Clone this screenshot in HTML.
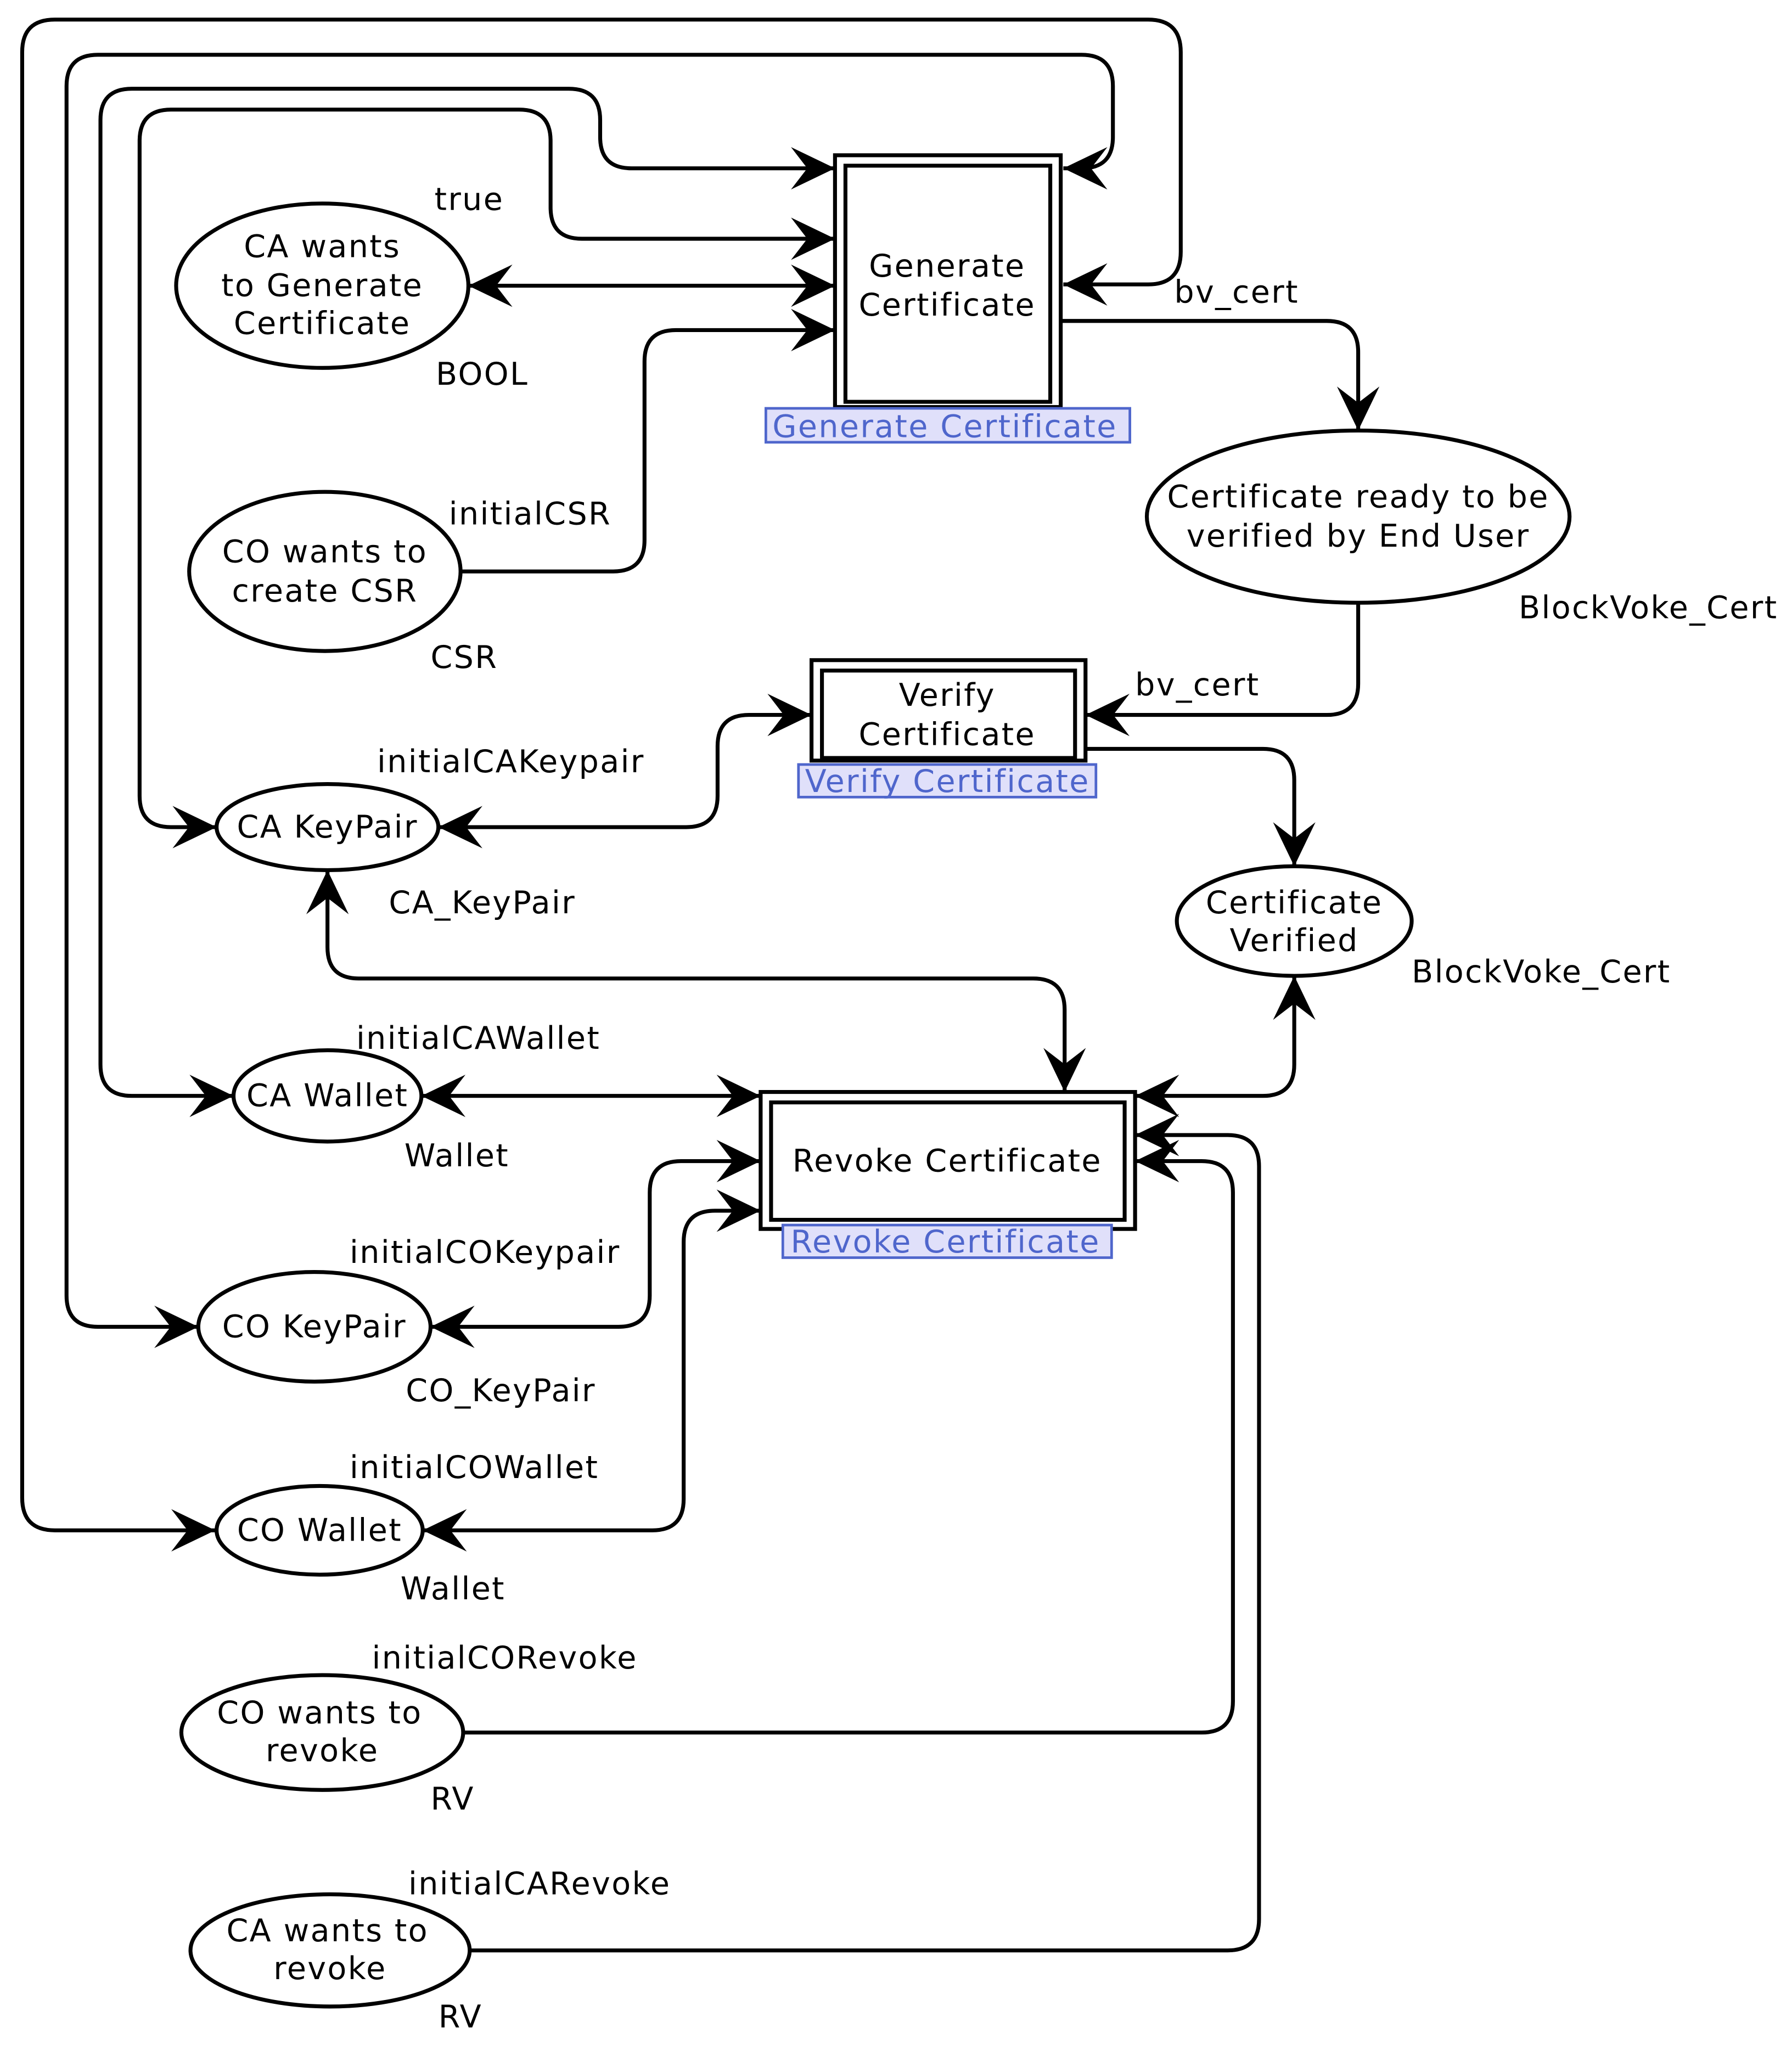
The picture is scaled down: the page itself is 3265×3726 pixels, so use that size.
<!DOCTYPE html>
<html><head><meta charset="utf-8"><style>
html,body{margin:0;padding:0;background:#fff;}
svg{display:block;}
text{font-family:"DejaVu Sans","Liberation Sans",sans-serif;font-size:24px;letter-spacing:1px;fill:#000;}
.c{text-anchor:middle;}
.lb{fill:#4f66cc;}
</style></head><body>
<svg width="3265" height="3726" viewBox="0 0 1373.5 1567.5" preserveAspectRatio="none" xmlns="http://www.w3.org/2000/svg">
<defs>
<marker id="a" markerUnits="userSpaceOnUse" markerWidth="40" markerHeight="40" viewBox="-30 -15 32 30" refX="0" refY="0" orient="auto-start-reverse">
<path d="M0,0 L-27,-13 L-17,0 L-27,13 Z" fill="#000"/>
</marker>
</defs>
<g fill="none" stroke="#000" stroke-width="3">
<path d="M815,218 H880 Q905,218 905,193 V40 Q905,15 880,15 H42 Q17,15 17,40 V1148 Q17,1173 42,1173 H165" marker-start="url(#a)" marker-end="url(#a)"/>
<path d="M815,129 H829 Q853,129 853,105 V66 Q853,42 829,42 H75 Q51,42 51,66 V993 Q51,1017 75,1017 H152" marker-start="url(#a)" marker-end="url(#a)"/>
<path d="M179,840 H101 Q77,840 77,816 V92 Q77,68 101,68 H436 Q460,68 460,92 V105 Q460,129 484,129 H640" marker-start="url(#a)" marker-end="url(#a)"/>
<path d="M166,634 H131 Q107,634 107,610 V108 Q107,84 131,84 H398 Q422,84 422,108 V159 Q422,183 446,183 H640" marker-start="url(#a)" marker-end="url(#a)"/>
<path d="M359,219 H640" marker-start="url(#a)" marker-end="url(#a)"/>
<path d="M353,438 H470 Q494,438 494,414 V277 Q494,253 518,253 H640" marker-end="url(#a)"/>
<path d="M813,246 H1017 Q1041,246 1041,270 V330" marker-end="url(#a)"/>
<path d="M1041,462 V524 Q1041,548 1017,548 H832" marker-end="url(#a)"/>
<path d="M622,548 H574 Q550,548 550,572 V610 Q550,634 526,634 H336" marker-start="url(#a)" marker-end="url(#a)"/>
<path d="M832,574 H968 Q992,574 992,598 V664" marker-end="url(#a)"/>
<path d="M251,667 V726 Q251,750 275,750 H792 Q816,750 816,774 V837" marker-start="url(#a)" marker-end="url(#a)"/>
<path d="M992,748 V816 Q992,840 968,840 H870" marker-start="url(#a)" marker-end="url(#a)"/>
<path d="M323,840 H583" marker-start="url(#a)" marker-end="url(#a)"/>
<path d="M330,1017 H474 Q498,1017 498,993 V914 Q498,890 522,890 H583" marker-start="url(#a)" marker-end="url(#a)"/>
<path d="M324,1173 H500 Q524,1173 524,1149 V952 Q524,928 548,928 H583" marker-start="url(#a)" marker-end="url(#a)"/>
<path d="M355,1328 H921 Q945,1328 945,1304 V914 Q945,890 921,890 H870" marker-end="url(#a)"/>
<path d="M360,1495 H941 Q965,1495 965,1471 V894 Q965,870 941,870 H870" marker-end="url(#a)"/>
</g>
<g fill="#fff" stroke="#000" stroke-width="3">
<rect x="640" y="119" width="173" height="193"/>
<rect x="648" y="127" width="157" height="181"/>
<rect x="622" y="506" width="210" height="77"/>
<rect x="630" y="514" width="194" height="67"/>
<rect x="583" y="837" width="287" height="105"/>
<rect x="591" y="845" width="271" height="90"/>
<ellipse cx="247" cy="219" rx="112" ry="63"/>
<ellipse cx="249" cy="438" rx="104" ry="61"/>
<ellipse cx="1041" cy="396" rx="162" ry="66"/>
<ellipse cx="251" cy="634" rx="85" ry="33"/>
<ellipse cx="992" cy="706" rx="90" ry="42"/>
<ellipse cx="251" cy="840" rx="72" ry="35"/>
<ellipse cx="241" cy="1017" rx="89" ry="42"/>
<ellipse cx="245" cy="1173" rx="79" ry="34"/>
<ellipse cx="247" cy="1328" rx="108" ry="44"/>
<ellipse cx="253" cy="1495" rx="107" ry="43"/>
</g>
<g fill="#e0e0fa" stroke="#4f66cc" stroke-width="2">
<rect x="587" y="313" width="279" height="26"/>
<rect x="612" y="586" width="228" height="25"/>
<rect x="600" y="939" width="252" height="25"/>
</g>
<text class="lb" x="592" y="335">Generate Certificate</text>
<text class="lb" x="617" y="607">Verify Certificate</text>
<text class="lb" x="606" y="960">Revoke Certificate</text>
<text class="c" x="726" y="212">Generate</text>
<text class="c" x="726" y="242">Certificate</text>
<text class="c" x="726" y="541">Verify</text>
<text class="c" x="726" y="571">Certificate</text>
<text class="c" x="726" y="898">Revoke Certificate</text>
<text class="c" x="247" y="197">CA wants</text>
<text class="c" x="247" y="227">to Generate</text>
<text class="c" x="247" y="256">Certificate</text>
<text x="333" y="161">true</text>
<text x="334" y="295">BOOL</text>
<text class="c" x="249" y="431">CO wants to</text>
<text class="c" x="249" y="461">create CSR</text>
<text x="344" y="402">initialCSR</text>
<text x="330" y="512">CSR</text>
<text class="c" x="1041" y="389">Certificate ready to be</text>
<text class="c" x="1041" y="419">verified by End User</text>
<text x="1164" y="474">BlockVoke_Cert</text>
<text x="900" y="232">bv_cert</text>
<text x="870" y="533">bv_cert</text>
<text class="c" x="251" y="642">CA KeyPair</text>
<text x="289" y="592">initialCAKeypair</text>
<text x="298" y="700">CA_KeyPair</text>
<text class="c" x="992" y="700">Certificate</text>
<text class="c" x="992" y="729">Verified</text>
<text x="1082" y="753">BlockVoke_Cert</text>
<text class="c" x="251" y="848">CA Wallet</text>
<text x="273" y="804">initialCAWallet</text>
<text x="310" y="894">Wallet</text>
<text class="c" x="241" y="1025">CO KeyPair</text>
<text x="268" y="968">initialCOKeypair</text>
<text x="311" y="1074">CO_KeyPair</text>
<text class="c" x="245" y="1181">CO Wallet</text>
<text x="268" y="1133">initialCOWallet</text>
<text x="307" y="1226">Wallet</text>
<text class="c" x="245" y="1321">CO wants to</text>
<text class="c" x="247" y="1350">revoke</text>
<text x="285" y="1279">initialCORevoke</text>
<text x="330" y="1387">RV</text>
<text class="c" x="251" y="1488">CA wants to</text>
<text class="c" x="253" y="1517">revoke</text>
<text x="313" y="1452">initialCARevoke</text>
<text x="336" y="1554">RV</text>
</svg>
</body></html>
